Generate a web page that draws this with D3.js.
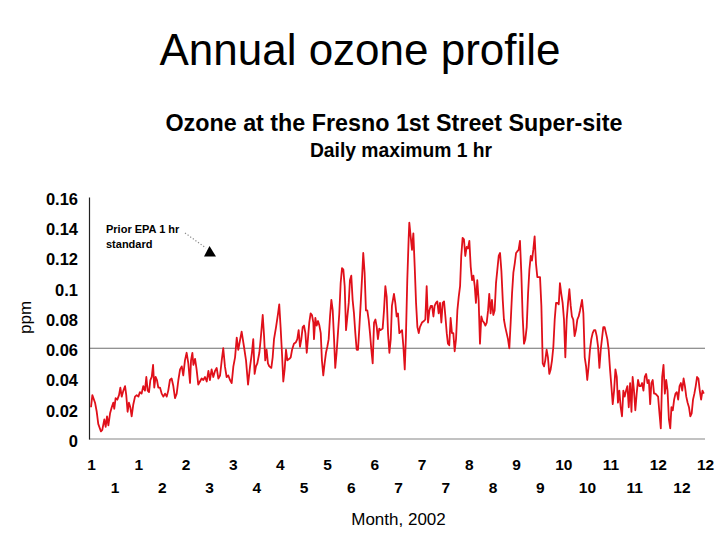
<!DOCTYPE html>
<html>
<head>
<meta charset="utf-8">
<script src="https://cdn.jsdelivr.net/npm/d3@7"></script>
<style>
  html, body { margin: 0; padding: 0; background: #fff; }
  svg { display: block; font-family: "Liberation Sans", Arial, sans-serif; }
</style>
</head>
<body>
<svg id="chart" width="720" height="540"></svg>
<script>
// ---- Data (day of year 2002, daily max 1-hr ozone in ppm) ----
const days = [
  0,0.8,2.4,3.4,4.3,5.9,6.7,7.9,8.7,9.5,
  10.3,11.3,12.3,13.2,13.8,14.6,15.6,16.6,17.4,18.2,
  19.2,20.2,20.9,21.7,22.5,23.3,24.1,25.1,26.1,27.1,
  28.1,29.0,30.0,31.0,32.0,32.8,33.6,34.4,35.2,36.0,
  36.8,37.5,38.3,39.1,39.9,40.9,41.9,42.9,43.9,44.9,
  45.8,46.8,47.8,48.8,49.8,50.8,51.8,52.8,53.8,54.7,
  55.7,56.7,57.7,58.7,59.3,60.1,60.7,61.7,62.6,63.6,
  64.6,65.6,66.6,67.6,68.6,69.6,70.5,71.5,72.5,73.5,
  74.5,75.5,76.5,77.5,78.4,79.4,80.4,81.4,82.4,83.4,
  84.4,85.4,86.4,87.3,
  89.3,90.7,91.9,93.1,94.3,95.4,96.2,97.0,97.8,98.6,
  99.8,100.6,101.8,102.6,103.3,104.1,104.9,105.7,106.9,107.7,
  108.5,109.7,110.9,111.6,112.4,113.2,114.0,114.8,115.6,116.4,
  117.6,118.4,119.2,120.3,121.5,122.3,123.1,123.9,124.7,125.5,
  126.3,127.1,127.9,128.6,129.4,130.2,131.0,131.8,132.2,133.0,
  133.8,134.6,135.4,136.2,136.9,137.7,138.5,139.3,140.1,140.9,
  141.7,142.5,143.3,144.1,144.8,145.6,146.4,147.2,148.0,148.8,
  149.6,150.4,151.2,152.0,152.8,153.5,154.3,155.1,155.9,156.7,
  157.5,158.3,159.1,159.9,160.7,161.4,162.2,163.0,163.8,164.6,
  165.4,166.2,167.0,167.8,168.6,169.4,170.1,170.9,171.7,172.9,
  173.7,174.5,175.3,176.1,176.9,177.7,178.4,179.6,180.4,181.2,
  182.0,182.8,
  184.4,185.2,186.0,186.7,187.5,188.3,188.7,189.5,190.3,191.1,
  191.9,192.7,193.5,194.3,195.0,196.2,197.4,198.2,199.0,199.8,
  200.6,201.4,202.2,203.0,203.7,204.5,205.3,206.1,206.9,207.7,
  208.5,209.3,210.1,210.9,211.6,212.4,213.2,214.0,214.8,215.6,
  216.4,217.2,218.0,218.8,219.5,220.3,221.1,221.9,222.7,223.5,
  224.3,225.1,225.9,226.7,227.5,228.2,229.0,229.8,230.6,231.4,
  232.2,233.0,233.8,234.6,235.4,236.1,236.9,237.7,238.5,239.3,
  240.1,240.9,241.7,242.5,243.3,244.1,244.8,245.6,246.4,247.2,
  248.0,248.8,249.6,250.4,251.2,252.0,252.7,253.5,254.3,255.1,
  255.9,256.7,257.5,258.3,259.1,259.9,260.7,261.4,262.2,263.0,
  263.8,264.6,265.4,266.2,267.0,267.8,268.6,269.3,270.1,270.9,
  271.7,272.5,273.3,274.1,274.9,275.7,276.5,277.3,
  278.0,278.8,279.6,280.4,281.2,282.0,282.8,283.6,284.4,285.1,
  285.9,286.7,287.5,288.3,289.1,289.9,291.1,291.9,292.7,293.5,
  294.2,295.0,295.8,296.6,297.4,298.2,299.0,299.8,300.6,301.4,
  302.2,303.0,303.7,304.5,305.3,306.1,306.9,307.7,308.5,309.3,
  310.1,310.9,311.7,312.4,313.2,314.0,314.8,315.6,316.4,317.2,
  318.0,318.8,319.6,320.4,321.1,321.9,322.7,323.5,324.3,325.1,
  325.9,326.7,327.5,328.3,329.1,329.9,330.7,331.5,332.2,333.0,
  333.8,334.6,335.4,336.2,337.0,337.8,338.6,339.4,340.2,341.0,
  341.8,342.6,343.4,344.1,344.9,345.7,346.5,347.3,348.1,348.9,
  349.7,350.5,351.3,352.1,352.9,353.7,354.5,355.3,356.1,356.9,
  357.7,358.5,359.3,360.1,360.9,361.7,362.5,363.3
];
const ozone = [
  0.021,0.029,0.024,0.018,0.010,0.005,0.006,0.013,0.008,0.015,
  0.009,0.017,0.021,0.024,0.020,0.027,0.026,0.029,0.034,0.028,
  0.032,0.035,0.029,0.018,0.024,0.021,0.015,0.023,0.028,0.029,
  0.028,0.031,0.030,0.035,0.032,0.041,0.032,0.031,0.039,0.041,
  0.049,0.034,0.041,0.039,0.034,0.034,0.030,0.028,0.030,0.028,
  0.032,0.039,0.040,0.035,0.027,0.030,0.039,0.046,0.048,0.042,
  0.052,0.057,0.050,0.037,0.052,0.057,0.049,0.053,0.046,0.036,
  0.038,0.040,0.039,0.041,0.038,0.045,0.039,0.046,0.041,0.045,
  0.047,0.040,0.042,0.052,0.060,0.048,0.041,0.042,0.039,0.037,
  0.048,0.054,0.067,0.059,
  0.071,0.061,0.052,0.036,0.048,0.057,0.066,0.043,0.048,0.050,
  0.057,0.066,0.082,0.068,0.052,0.059,0.050,0.048,0.047,0.054,
  0.066,0.074,0.083,0.089,0.074,0.057,0.038,0.046,0.059,0.052,
  0.053,0.054,0.059,0.063,0.064,0.066,0.072,0.061,0.066,0.074,
  0.075,0.070,0.057,0.066,0.077,0.083,0.082,0.077,0.066,0.080,
  0.075,0.078,0.075,0.070,0.052,0.042,0.050,0.057,0.061,0.066,
  0.081,0.092,0.085,0.066,0.047,0.057,0.070,0.083,0.103,0.113,
  0.112,0.101,0.072,0.081,0.090,0.105,0.108,0.092,0.083,0.070,
  0.059,0.059,0.074,0.090,0.107,0.123,0.110,0.085,0.085,0.079,
  0.070,0.059,0.050,0.077,0.079,0.074,0.066,0.073,0.072,0.073,
  0.085,0.101,0.094,0.070,0.057,0.066,0.088,0.096,0.090,0.081,
  0.083,0.070,
  0.072,0.061,0.046,0.068,0.105,0.132,0.143,0.134,0.125,0.136,
  0.114,0.090,0.074,0.070,0.074,0.077,0.078,0.079,0.101,0.077,
  0.085,0.088,0.088,0.081,0.088,0.090,0.091,0.083,0.090,0.077,
  0.090,0.091,0.081,0.070,0.063,0.062,0.080,0.070,0.070,0.058,
  0.066,0.085,0.094,0.101,0.121,0.133,0.132,0.121,0.127,0.126,
  0.131,0.114,0.105,0.108,0.101,0.090,0.105,0.092,0.063,0.081,
  0.078,0.077,0.075,0.077,0.085,0.096,0.083,0.092,0.082,0.085,
  0.103,0.112,0.121,0.123,0.111,0.092,0.079,0.074,0.070,0.066,
  0.060,0.077,0.096,0.110,0.116,0.123,0.124,0.125,0.131,0.110,
  0.081,0.063,0.066,0.074,0.096,0.112,0.121,0.118,0.125,0.134,
  0.116,0.107,0.107,0.107,0.088,0.050,0.048,0.052,0.059,0.054,
  0.043,0.046,0.052,0.061,0.079,0.090,0.090,0.089,
  0.103,0.096,0.090,0.079,0.054,0.079,0.090,0.099,0.088,0.081,
  0.079,0.068,0.072,0.079,0.081,0.085,0.092,0.083,0.054,0.048,
  0.039,0.048,0.059,0.066,0.070,0.072,0.072,0.068,0.061,0.047,
  0.059,0.067,0.074,0.074,0.070,0.066,0.059,0.046,0.035,0.023,
  0.032,0.046,0.041,0.024,0.032,0.021,0.015,0.032,0.028,0.032,
  0.035,0.021,0.037,0.018,0.041,0.032,0.019,0.030,0.039,0.035,
  0.035,0.037,0.032,0.041,0.043,0.037,0.039,0.023,0.037,0.039,
  0.030,0.030,0.029,0.028,0.017,0.007,0.041,0.049,0.030,0.039,
  0.032,0.013,0.007,0.021,0.019,0.026,0.030,0.031,0.026,0.035,
  0.037,0.032,0.040,0.035,0.028,0.024,0.021,0.015,0.017,0.026,
  0.030,0.035,0.041,0.040,0.032,0.026,0.032,0.030
];
// x tick positions (day of year, every 14 days) and their month labels
const tickDays = [0,14,28,42,56,70,84,98,112,126,140,154,168,182,196,210,224,238,252,266,280,294,308,322,336,350,364];
const monthLabels = ["1","1","1","2","2","3","3","4","4","5","5","6","6","7","7","7","8","8","9","9","10","10","11","11","12","12","12"];
const yTicks = [0,0.02,0.04,0.06,0.08,0.1,0.12,0.14,0.16];
const yTickLabels = ["0","0.02","0.04","0.06","0.08","0.1","0.12","0.14","0.16"];
const standardLevel = 0.06;

const title = "Annual ozone profile";
const chartTitle = "Ozone at the Fresno 1st Street Super-site";
const chartSubtitle = "Daily maximum 1 hr";
const xTitle = "Month, 2002";
const yTitle = "ppm";
const noteLines = ["Prior EPA 1 hr", "standard"];

// ---- Drawing ----
const svg = d3.select("#chart");
svg.append("rect").attr("width", 720).attr("height", 540).attr("fill", "#fff");

const plotLeft = 89, plotRight = 705, plotTop = 197, plotBottom = 439;
const x = d3.scaleLinear().domain([0, 364]).range([91, 705]);
const y = d3.scaleLinear().domain([0, 0.16]).range([plotBottom, plotTop]);

// titles
svg.append("text").attr("x", 360).attr("y", 65).attr("text-anchor", "middle")
  .attr("font-size", 44).attr("fill", "#000").text(title);
svg.append("text").attr("x", 394).attr("y", 131).attr("text-anchor", "middle")
  .attr("font-size", 23.3).attr("font-weight", "bold").attr("fill", "#000").text(chartTitle);
svg.append("text").attr("x", 401).attr("y", 157).attr("text-anchor", "middle")
  .attr("font-size", 19.3).attr("font-weight", "bold").attr("fill", "#000").text(chartSubtitle);

// standard reference line
svg.append("line")
  .attr("x1", plotLeft).attr("x2", plotRight)
  .attr("y1", y(standardLevel)).attr("y2", y(standardLevel))
  .attr("stroke", "#6e6e6e").attr("stroke-width", 1.2);

// baseline
svg.append("line")
  .attr("x1", plotLeft).attr("x2", plotRight)
  .attr("y1", y(0)).attr("y2", y(0))
  .attr("stroke", "#858585").attr("stroke-width", 1.2);

// y axis
const yAxis = d3.axisLeft(y).tickValues(yTicks).tickSize(0).tickPadding(11)
  .tickFormat((d, i) => yTickLabels[i]);
const gy = svg.append("g").attr("transform", `translate(${plotLeft},0)`).call(yAxis);
gy.select(".domain").attr("stroke", "#222").attr("stroke-width", 1.2);
gy.selectAll("text").attr("font-size", 16.5).attr("font-weight", "bold")
  .attr("fill", "#000").attr("font-family", "'Liberation Sans', Arial, sans-serif")
  .attr("dy", "0.45em");

// x axis (labels alternate between two rows)
const xAxis = d3.axisBottom(x).tickValues(tickDays).tickSize(0).tickPadding(0)
  .tickFormat((d, i) => monthLabels[i]);
const gx = svg.append("g").attr("transform", `translate(0,${plotBottom})`).call(xAxis);
gx.select(".domain").remove();
gx.selectAll("text")
  .attr("font-size", 15.5).attr("font-weight", "bold").attr("fill", "#000")
  .attr("font-family", "'Liberation Sans', Arial, sans-serif")
  .attr("dy", null)
  .attr("y", (d, i) => (i % 2 === 0 ? 31 : 54));

// axis titles
svg.append("text").attr("x", 398.5).attr("y", 525).attr("text-anchor", "middle")
  .attr("font-size", 17).attr("fill", "#000").text(xTitle);
svg.append("text").attr("transform", "translate(31,317.5) rotate(-90)")
  .attr("text-anchor", "middle").attr("font-size", 17).attr("fill", "#000").text(yTitle);

// ozone line
const series = days.map((d, i) => ({ day: d, v: ozone[i] }));
const line = d3.line().x(d => x(d.day)).y(d => y(d.v));
svg.append("path").datum(series)
  .attr("fill", "none").attr("stroke", "#e0101a").attr("stroke-width", 1.8)
  .attr("stroke-linejoin", "round").attr("d", line);

// annotation
const note = svg.append("text").attr("font-size", 11).attr("font-weight", "bold").attr("fill", "#000");
noteLines.forEach((t, i) => {
  note.append("tspan").attr("x", 106).attr("y", 233 + i * 14.5).text(t);
});
svg.append("line").attr("x1", 185).attr("y1", 233).attr("x2", 206).attr("y2", 248)
  .attr("stroke", "#8a8a8a").attr("stroke-width", 1.2).attr("stroke-dasharray", "1.2,2");
svg.append("polygon").attr("points", "209.5,246 204,256.5 216,256.5").attr("fill", "#000");
</script>
</body>
</html>
